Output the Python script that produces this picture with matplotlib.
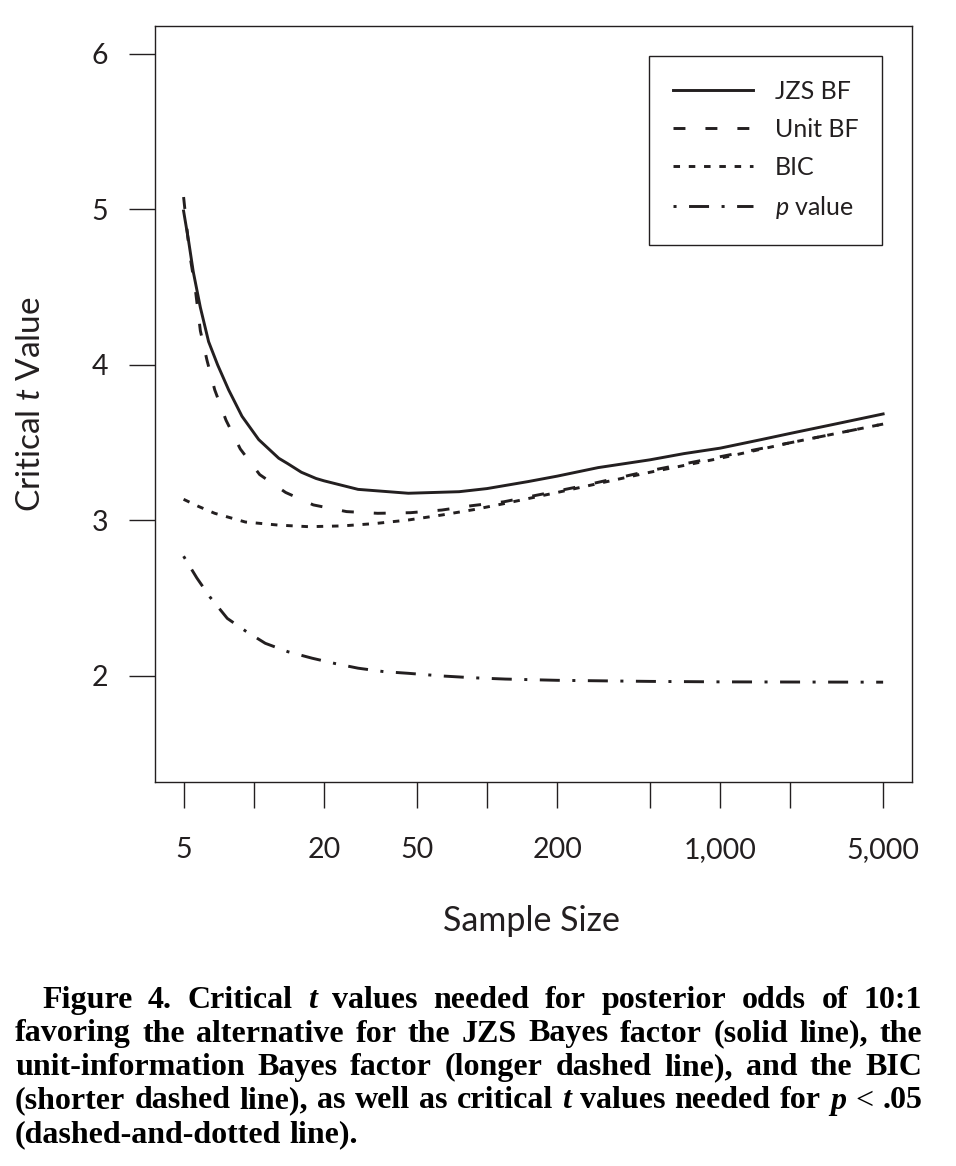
import matplotlib as mpl
import matplotlib.pyplot as plt

# humanist sans for the chart, italic t / p through mathtext
mpl.rcParams['font.family'] = ['Lato', 'DejaVu Sans']
mpl.rcParams['mathtext.fontset'] = 'custom'
mpl.rcParams['mathtext.rm'] = 'Lato'
mpl.rcParams['mathtext.it'] = 'Lato:italic'
mpl.rcParams['lines.scale_dashes'] = False

ink = '#231f20'

# critical t values, per sample size
n_jzs = [5, 5.25, 5.5, 5.9, 6.4, 7, 7.8, 8.9, 10.5, 12.8, 14, 16, 18.5, 20, 28, 46,
         76, 100, 150, 200, 300, 500, 700, 1000, 1500, 2000, 3000, 5000]
t_jzs = [4.99, 4.80, 4.60, 4.37, 4.15, 4.00, 3.84, 3.67, 3.52, 3.40, 3.365, 3.31, 3.27, 3.255, 3.20, 3.175,
         3.185, 3.205, 3.25, 3.285, 3.34, 3.39, 3.43, 3.465, 3.52, 3.56, 3.615, 3.685]

n_unit = [5, 5.3, 5.6, 5.9, 6.3, 6.8, 7.6, 8.75, 10.6, 13.7, 18, 25, 34, 47, 64,
          86, 118, 180, 252, 500, 1000, 2000, 5000]
t_unit = [5.08, 4.72, 4.50, 4.22, 4.03, 3.84, 3.645, 3.46, 3.295, 3.18, 3.10, 3.057, 3.046, 3.05, 3.067,
          3.095, 3.12, 3.175, 3.22, 3.32, 3.41, 3.50, 3.62]

n_bic = [5, 5.8, 6.8, 9.2, 12.8, 17.2, 24, 33, 46, 64, 88, 120, 200, 500, 1000, 2000, 5000]
t_bic = [3.136, 3.09, 3.046, 2.99, 2.97, 2.96, 2.965, 2.98, 3.003, 3.035, 3.07, 3.11, 3.18, 3.31, 3.40, 3.50, 3.62]

n_p = [5, 5.7, 6.5, 7.7, 9.2, 11.2, 14, 17.8, 22.3, 28, 36, 46, 64, 88, 120,
       200, 500, 1000, 2000, 5000]
t_p = [2.77, 2.63, 2.506, 2.37, 2.29, 2.21, 2.156, 2.114, 2.08, 2.05, 2.028, 2.017, 2.0, 1.988, 1.98,
       1.972, 1.965, 1.962, 1.961, 1.960]

x_ticks = [5, 10, 20, 50, 100, 200, 500, 1000, 2000, 5000]
x_labels = ['5', '', '20', '50', '', '200', '', '1,000', '', '5,000']
y_ticks = [2, 3, 4, 5, 6]

caption = [
    "Figure 4. Critical _t_ values needed for posterior odds of 10:1",
    "favoring the alternative for the JZS Bayes factor (solid line), the",
    "unit-information Bayes factor (longer dashed line), and the BIC",
    "(shorter dashed line), as well as critical _t_ values needed for _p_ < .05",
    "(dashed-and-dotted line).",
]

W, H = 956, 1166
fig = plt.figure(figsize=(W / 100, H / 100), dpi=100)
ax = fig.add_axes([155 / W, 1 - 782 / H, 757 / W, 756 / H])

lw = 2.1
ax.plot(n_jzs, t_jzs, color=ink, lw=lw, label='JZS BF')
ax.plot(n_unit, t_unit, color=ink, lw=lw, dashes=(8.6, 14.4), label='Unit BF')
ax.plot(n_bic, t_bic, color=ink, lw=lw, dashes=(4.7, 6.3), label='BIC')
ax.plot(n_p, t_p, color=ink, lw=lw, dashes=(2.2, 9, 14.4, 9), label=r'$\mathit{p}$ value')

ax.set_xscale('log')
ax.set_xlim(3.77, 6650)
ax.set_ylim(1.318, 6.18)
ax.set_xticks(x_ticks)
ax.set_xticklabels(x_labels)
ax.xaxis.set_minor_locator(mpl.ticker.NullLocator())
ax.set_yticks(y_ticks)
ax.tick_params(direction='out', length=18.7, width=1.0, color=ink,
               labelsize=20.5, labelcolor=ink)
ax.tick_params(axis='x', pad=21)
ax.tick_params(axis='y', pad=15)
for s in ax.spines.values():
    s.set_linewidth(1.0)
    s.set_color(ink)

leg = ax.legend(loc='upper right', bbox_to_anchor=(0.9604, 0.9603),
                borderaxespad=0, fontsize=18, handlelength=3.2,
                handletextpad=0.88, labelspacing=0.6, borderpad=0.95,
                fancybox=False, edgecolor=ink, framealpha=1)
leg.get_frame().set_linewidth(1.0)
for t in leg.get_texts():
    t.set_color(ink)

fig.text(31 / W, 1 - 404 / H, r'Critical $\mathit{t}$ Value', rotation=90,
         ha='center', va='center', fontsize=24, color=ink)
fig.text(531 / W, 1 - 921 / H, 'Sample Size', ha='center', va='center',
         fontsize=24.5, color=ink)

# caption, justified line by line like the printed page
cap_size = 23
cap_left = [42, 15, 15, 15, 15]
cap_right = 922
renderer = fig.canvas.get_renderer()
for i, line in enumerate(caption):
    base = 1008 + 33.5 * i
    texts = []
    for w in line.split(' '):
        style = 'normal'
        if w.startswith('_'):
            w = w.strip('_')
            style = 'italic'
        weight = 'normal' if w == '<' else 'bold'
        texts.append(fig.text(0, 1 - base / H, w, family='Liberation Serif',
                              fontsize=cap_size, weight=weight, style=style,
                              va='baseline', color='black'))
    widths = [t.get_window_extent(renderer).width for t in texts]
    if i < len(caption) - 1:
        gap = (cap_right - cap_left[i] - sum(widths)) / (len(texts) - 1)
    else:
        gap = 0.25 * cap_size * 100 / 72
    x = cap_left[i]
    for t, w in zip(texts, widths):
        t.set_x(x / W)
        x += w + gap

fig.savefig('out.png', dpi=100)
